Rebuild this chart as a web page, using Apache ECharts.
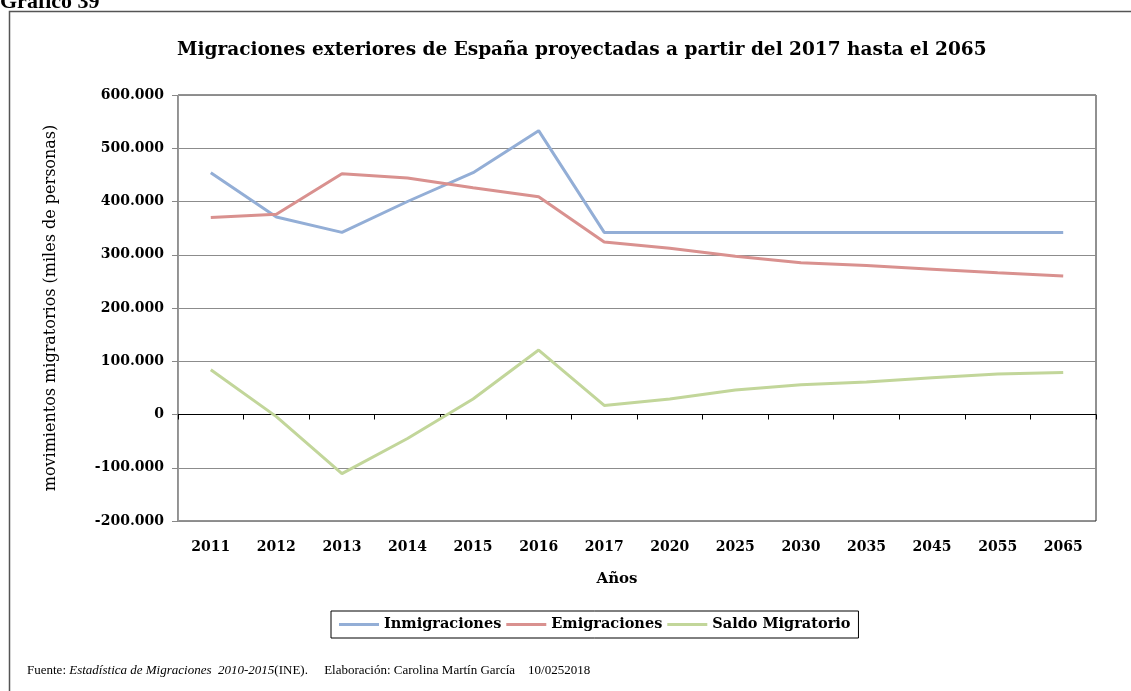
<!DOCTYPE html>
<html><head><meta charset="utf-8">
<script src="https://cdn.jsdelivr.net/npm/echarts@6/dist/echarts.min.js"></script>
<style>html,body{margin:0;padding:0;background:#fff}#c{width:1131px;height:691px}</style>
</head><body><div id="c"></div>
<script>
const categories = ['2011','2012','2013','2014','2015','2016','2017','2020','2025','2030','2035','2045','2055','2065'];
const inmigraciones = [454000, 371000, 342000, 400000, 454000, 533000, 342000, 342000, 342000, 342000, 342000, 342000, 342000, 342000];
const emigraciones = [370000, 376000, 452000, 444000, 426000, 409000, 324000, 312000, 297000, 285000, 280000, 273000, 266000, 260000];
const saldo = [84000, -4000, -111000, -45000, 29000, 121000, 17000, 29000, 46000, 56000, 61000, 69000, 76000, 79000];
const seriesNames = ['Inmigraciones', 'Emigraciones', 'Saldo Migratorio'];

const fmt = v => v === 0 ? '0' : (v < 0 ? '-' : '') + String(Math.abs(v)).replace(/\B(?=(\d{3})+(?!\d))/g, '.');
const serif = 'DejaVu Serif';
const chart = echarts.init(document.getElementById('c'), null, {renderer: 'canvas'});
chart.setOption({
  animation: false,
  backgroundColor: '#fff',
  title: {
    text: 'Migraciones exteriores de España proyectadas a partir del 2017 hasta el 2065',
    left: 172, top: 36,
    textStyle: {fontFamily: serif, fontWeight: 'bold', fontSize: 18.5, color: '#000'}
  },
  legend: {
    data: seriesNames,
    left: 331, top: 611,
    padding: [6, 8],
    borderColor: '#000', borderWidth: 1,
    icon: 'rect', itemWidth: 40, itemHeight: 3, itemGap: 5,
    textStyle: {fontFamily: serif, fontWeight: 'bold', fontSize: 14.5, color: '#000'}
  },
  grid: {left: 178, right: 35, top: 95, bottom: 170, show: true, borderColor: '#222', borderWidth: 1, containLabel: false},
  xAxis: [{
    type: 'category', data: categories, position: 'top',
    axisLine: {onZero: true, lineStyle: {color: '#000', width: 1}},
    axisTick: {show: true, inside: true, length: 5, lineStyle: {color: '#000'}},
    axisLabel: {show: false}, splitLine: {show: false}
  }, {
    type: 'category', data: categories, position: 'bottom',
    axisLine: {show: false, onZero: false}, axisTick: {show: false},
    axisLabel: {margin: 19, fontFamily: serif, fontWeight: 'bold', fontSize: 14, color: '#000'},
    name: 'Años', nameLocation: 'middle', nameGap: 51,
    nameTextStyle: {fontFamily: serif, fontWeight: 'bold', fontSize: 15, color: '#000', padding: [0, 40, 0, 0]}
  }],
  yAxis: {
    type: 'value', min: -200000, max: 600000, interval: 100000,
    axisLine: {show: true, lineStyle: {color: '#999'}},
    axisTick: {show: true, length: 6, lineStyle: {color: '#888'}},
    axisLabel: {formatter: fmt, margin: 14, fontFamily: serif, fontWeight: 'bold', fontSize: 14, color: '#000'},
    splitLine: {lineStyle: {color: '#8c8c8c', width: 1}},
    name: 'movimientos migratorios (miles de personas)', nameLocation: 'middle', nameGap: 119,
    nameTextStyle: {fontFamily: serif, fontSize: 16, color: '#000'}
  },
  series: [
    {name: seriesNames[0], type: 'line', data: inmigraciones, symbol: 'none', lineStyle: {color: '#93aed6', width: 3}, itemStyle: {color: '#93aed6'}},
    {name: seriesNames[1], type: 'line', data: emigraciones, symbol: 'none', lineStyle: {color: '#d9918f', width: 3}, itemStyle: {color: '#d9918f'}},
    {name: seriesNames[2], type: 'line', data: saldo, symbol: 'none', lineStyle: {color: '#c2d69a', width: 3}, itemStyle: {color: '#c2d69a'}}
  ],
  graphic: [
    {type: 'polyline', shape: {points: [[9.5, 691], [9.5, 11.5], [1131, 11.5]]}, style: {stroke: '#555', lineWidth: 1.5, fill: null}},
    {type: 'text', left: 0, top: -9, style: {text: 'Gráfico 39', font: 'bold 22px "Liberation Serif"', fill: '#000'}},
    {type: 'text', left: 27, top: 664, style: {
      text: '{n|Fuente: }{i|Estadística de Migraciones  2010-2015}{n|(INE).     Elaboración: Carolina Martín García    10/0252018}',
      rich: {
        n: {fontFamily: 'Liberation Serif', fontSize: 13, fill: '#000'},
        i: {fontFamily: 'Liberation Serif', fontStyle: 'italic', fontSize: 13, fill: '#000'}
      }
    }}
  ]
});
</script></body></html>
